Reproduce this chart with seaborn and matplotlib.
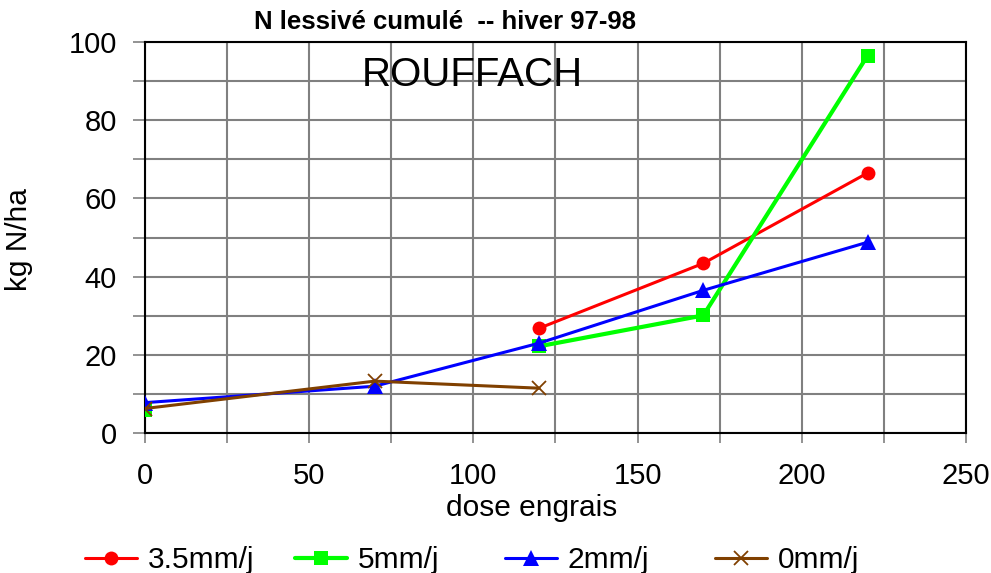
import numpy as np
import pandas as pd
import matplotlib
matplotlib.use("Agg")
import matplotlib.pyplot as plt
from matplotlib.lines import Line2D
import seaborn as sns

# Data
dose = [0, 70, 120, 170, 220]
n_35 = [np.nan, np.nan, 26.8, 43.4, 66.5]
n_5 = [6.0, np.nan, 22.2, 30.1, 96.5]
n_2 = [7.8, 12.0, 23.0, 36.5, 48.8]
n_0 = [6.3, 13.3, 11.5, np.nan, np.nan]

labels = ["3.5mm/j", "5mm/j", "2mm/j", "0mm/j"]
colors = ["#ff0000", "#00ff00", "#0000ff", "#804000"]
markers = ["o", "s", "^", "x"]

sns.set_style("white")
plt.rcParams["font.family"] = ["Liberation Sans", "DejaVu Sans"]
plt.rcParams["text.color"] = "black"
plt.rcParams["axes.labelcolor"] = "black"
plt.rcParams["xtick.labelcolor"] = "black"
plt.rcParams["ytick.labelcolor"] = "black"

fig = plt.figure(figsize=(9.91, 5.73), dpi=100)
ax = fig.add_axes([0.146, 0.244, 0.829, 0.683])

handles = []
for vals, lab, col, mk in zip([n_35, n_5, n_2, n_0], labels, colors, markers):
    df = pd.DataFrame({"dose": dose, "N": vals})
    # break lines where a value is missing
    df["run"] = df["N"].isna().cumsum()
    df = df.dropna()
    lw = 3.0 if lab == "5mm/j" else 2.2
    mew = 1.3 if mk == "x" else 0
    ms = 11 if mk == "^" else 10
    sns.lineplot(data=df, x="dose", y="N", units="run", estimator=None,
                 color=col, linewidth=lw, marker=mk, markersize=ms,
                 markeredgecolor=col, markeredgewidth=mew,
                 ax=ax, legend=False, zorder=3)
    handles.append(Line2D([0], [0], color=col, linewidth=lw, marker=mk,
                          markersize=ms, markeredgecolor=col,
                          markeredgewidth=mew))

ax.set_xlim(0, 250)
ax.set_ylim(0, 100)
ax.set_xticks(np.arange(0, 251, 50))
ax.set_xticks(np.arange(0, 251, 25), minor=True)
ax.set_yticks(np.arange(0, 101, 20))
ax.set_yticks(np.arange(0, 101, 10), minor=True)
ax.grid(True, which="both", color="#808080", linewidth=1.5)
ax.set_axisbelow(True)
ax.tick_params(which="both", direction="out", width=1.2, color="#808080",
               labelsize=21, labelcolor="black", bottom=True, left=True)
ax.tick_params(axis="x", which="both", length=7, pad=14)
ax.tick_params(axis="y", which="both", length=9, pad=11)
for s in ax.spines.values():
    s.set_color("black")
    s.set_linewidth(1.5)

ax.set_xlabel("dose engrais", fontsize=21.5, color="black")
ax.xaxis.set_label_coords(0.471, -0.19)
ax.xaxis.label.set_va("center")
ax.set_ylabel("kg N/ha", fontsize=21.5, color="black")
ax.yaxis.set_label_coords(-0.136, 0.494)

fig.text(445 / 991, 1 - 22 / 573, "N lessivé cumulé  -- hiver 97-98",
         fontsize=18.5, fontweight="bold", ha="center", va="center",
         color="black")
ax.text(0.399, 0.965, "ROUFFACH", transform=ax.transAxes, fontsize=29,
        ha="center", va="top", color="black")

# legend entries at equal spacing, as in the original
for i, (h, lab) in enumerate(zip(handles, labels)):
    fig.legend([h], [lab], loc="center left",
               bbox_to_anchor=((85 + 210 * i) / 991, 1 - 560 / 573),
               frameon=False, fontsize=21.5, handlelength=1.75,
               handletextpad=0.35, borderpad=0, borderaxespad=0,
               labelcolor="black")

fig.savefig("out.png", dpi=100)
